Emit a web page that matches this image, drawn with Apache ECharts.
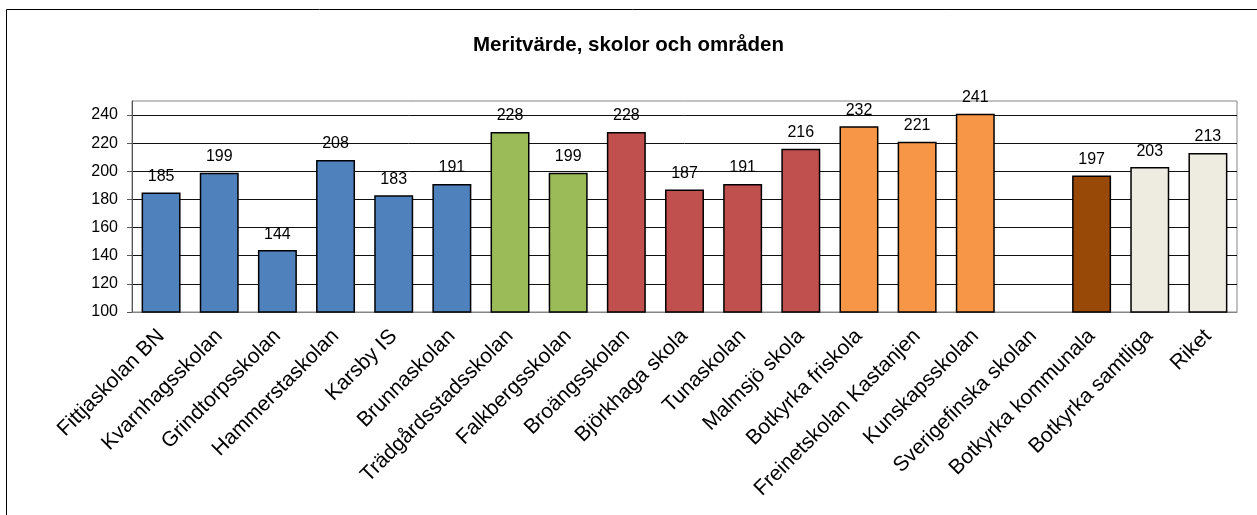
<!DOCTYPE html>
<html>
<head>
<meta charset="utf-8">
<script src="https://cdn.jsdelivr.net/npm/echarts@6/dist/echarts.min.js"></script>
<style>
  html, body { margin: 0; padding: 0; background: #fff; }
  #main { width: 1257px; height: 515px; }
</style>
</head>
<body>
<div id="main"></div>
<script>
var skolor = ["Fittjaskolan BN", "Kvarnhagsskolan", "Grindtorpsskolan", "Hammerstaskolan",
  "Karsby IS", "Brunnaskolan", "Trädgårdsstadsskolan", "Falkbergsskolan", "Broängsskolan",
  "Björkhaga skola", "Tunaskolan", "Malmsjö skola", "Botkyrka friskola", "Freinetskolan Kastanjen",
  "Kunskapsskolan", "Sverigefinska skolan", "Botkyrka kommunala", "Botkyrka samtliga", "Riket"];
var meritvarde = [185, 199, 144, 208, 183, 191, 228, 199, 228, 187, 191, 216, 232, 221, 241, null, 197, 203, 213];
var farger = ["#4F81BD", "#4F81BD", "#4F81BD", "#4F81BD", "#4F81BD", "#4F81BD",
  "#9BBB59", "#9BBB59", "#C0504D", "#C0504D", "#C0504D", "#C0504D",
  "#F79646", "#F79646", "#F79646", "#F79646", "#984807", "#EEECE1", "#EEECE1"];

var font = "'Liberation Sans', Arial, sans-serif";
var myChart = echarts.init(document.getElementById("main"));

var data = [];
for (var i = 0; i < meritvarde.length; i++) {
  data.push({ value: meritvarde[i], itemStyle: { color: farger[i] } });
}

var option = {
  animation: false,
  backgroundColor: "#fff",
  title: {
    text: "Meritvärde, skolor och områden",
    left: "center",
    top: 30,
    textStyle: { fontFamily: font, fontSize: 20.5, fontWeight: "bold", color: "#000" }
  },
  graphic: [{
    type: "rect",
    shape: { x: 6.5, y: 9.5, width: 1300, height: 600 },
    style: { fill: null, stroke: "#000", lineWidth: 1 },
    silent: true
  }],
  grid: {
    left: 132, right: 20, top: 101, bottom: 203,
    show: true, borderColor: "#868686", borderWidth: 1
  },
  xAxis: {
    type: "category",
    data: skolor,
    axisLine: { lineStyle: { color: "#868686", width: 1 } },
    axisTick: { length: 5, lineStyle: { color: "#868686" } },
    axisLabel: {
      rotate: 45, interval: 0, margin: 21,
      fontFamily: font, fontSize: 21, color: "#000"
    }
  },
  yAxis: {
    type: "value",
    min: 100, max: 250, interval: 20,
    axisLine: { show: true, lineStyle: { color: "#555", width: 1 } },
    axisTick: { show: true, length: 5, lineStyle: { color: "#555" } },
    axisLabel: { fontFamily: font, fontSize: 16, color: "#000", margin: 14, showMaxLabel: false },
    splitLine: { show: true, showMaxLine: false, lineStyle: { color: "#111", width: 1 } }
  },
  series: [{
    type: "bar",
    data: data,
    barCategoryGap: "33%",
    itemStyle: { borderColor: "#000", borderWidth: 1.5 },
    label: {
      show: true, position: "top", distance: 8,
      fontFamily: font, fontSize: 16, color: "#000"
    }
  }]
};
myChart.setOption(option);
</script>
</body>
</html>
